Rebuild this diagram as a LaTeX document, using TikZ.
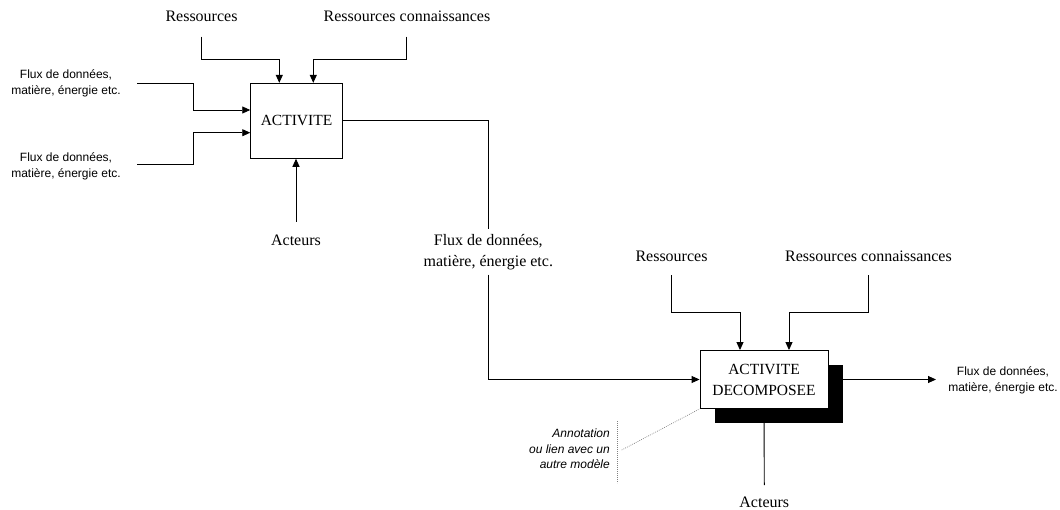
\documentclass[tikz,border=0pt]{standalone}
\usepackage{fontspec}
\setmainfont{Liberation Serif}
\setsansfont{Liberation Sans}
\usetikzlibrary{arrows.meta,shadows}
\begin{document}
\begin{tikzpicture}[x=1pt,y=-1pt,
  ln/.style={line width=0.9pt, draw=black},
  arr/.style={ln, -{Triangle[length=8pt,width=7pt]}},
  boxnode/.style={draw, line width=0.9pt, fill=white, inner sep=0pt, align=center,
                  font=\fontsize{15.5}{21}\selectfont},
  serif/.style={font=\fontsize{16}{20.5}\selectfont, align=center, inner sep=0pt},
  sans/.style={font=\sffamily\fontsize{12}{16}\selectfont, align=center, inner sep=0pt},
  annot/.style={font=\sffamily\itshape\fontsize{12}{15.5}\selectfont, align=right, inner sep=0pt},
  dotln/.style={draw=gray, line width=0.7pt, dash pattern=on 0.8pt off 1.2pt}
]
\useasboundingbox (0,0) rectangle (1060,509);

% ---------- first activity ----------
\node[boxnode, minimum width=91.6pt, minimum height=75pt] (b1) at (296.5,120.8) {ACTIVITE};

\node[serif] (res1) at (201.5,16.7) {Ressources};
\node[serif] (rc1) at (407,16.7) {Ressources connaissances};
\node[sans] (f1) at (66,83.5) {Flux de données,\\matière, énergie etc.};
\node[sans] (f2) at (66,166.5) {Flux de données,\\matière, énergie etc.};
\node[serif] (act1) at (296,240) {Acteurs};

\coordinate (r1a) at (201,36.7);   \coordinate (r1b) at (279.3,59.3);
\coordinate (c1a) at (406.3,36.7); \coordinate (c1b) at (313.3,59.3);
\coordinate (f1a) at (137,83.3);   \coordinate (f1b) at (193.3,110);
\coordinate (f2a) at (137,164.3);  \coordinate (f2b) at (193.3,132.7);
\coordinate (a1a) at (296,221.7);

\draw[arr] (r1a) |- (r1b) -- (r1b |- b1.north);
\draw[arr] (c1a) |- (c1b) -- (c1b |- b1.north);
\draw[arr] (f1a) -| (f1b) -- (f1b -| b1.west);
\draw[arr] (f2a) -| (f2b) -- (f2b -| b1.west);
\draw[arr] (a1a) -- (a1a |- b1.south);

% ---------- decomposed activity ----------
\node[boxnode, minimum width=128pt, minimum height=58pt,
      drop shadow={shadow xshift=14.5pt, shadow yshift=-14pt, opacity=1, fill=black}]
      (b2) at (764,379.5) {ACTIVITE\\DECOMPOSEE};

\node[serif, inner ysep=5pt] (fmid) at (488.3,252) {Flux de données,\\matière, énergie etc.};
\draw[ln] (b1.east) -| (fmid.north);
\draw[arr] (fmid.south) |- (b2.west);

\node[serif] (res2) at (671.5,256.7) {Ressources};
\node[serif] (rc2) at (868.5,256.7) {Ressources connaissances};
\node[sans] (f3) at (1003,380) {Flux de données,\\matière, énergie etc.};
\node[serif] (act2) at (764.3,502) {Acteurs};
\node[annot, anchor=east] (ann) at (610,449) {Annotation\\ou lien avec un\\autre modèle};

\coordinate (r2a) at (671,275);    \coordinate (r2b) at (740,312.3);
\coordinate (c2a) at (868.3,275);  \coordinate (c2b) at (789,312.3);
\coordinate (o2) at (936,379.5);
\coordinate (a2) at (764.3,485);
\coordinate (d1) at (617.3,421);   \coordinate (d2) at (617.3,483);
\coordinate (d3) at (621.7,450);

\draw[arr] (r2a) |- (r2b) -- (r2b |- b2.north);
\draw[arr] (c2a) |- (c2b) -- (c2b |- b2.north);
\draw[arr] (b2.east) -- (o2);
\draw[ln] (b2.south) -- (a2);
\draw[dotln] (d1) -- (d2);
\draw[dotln] (d3) -- (b2.south west);
\end{tikzpicture}
\end{document}
